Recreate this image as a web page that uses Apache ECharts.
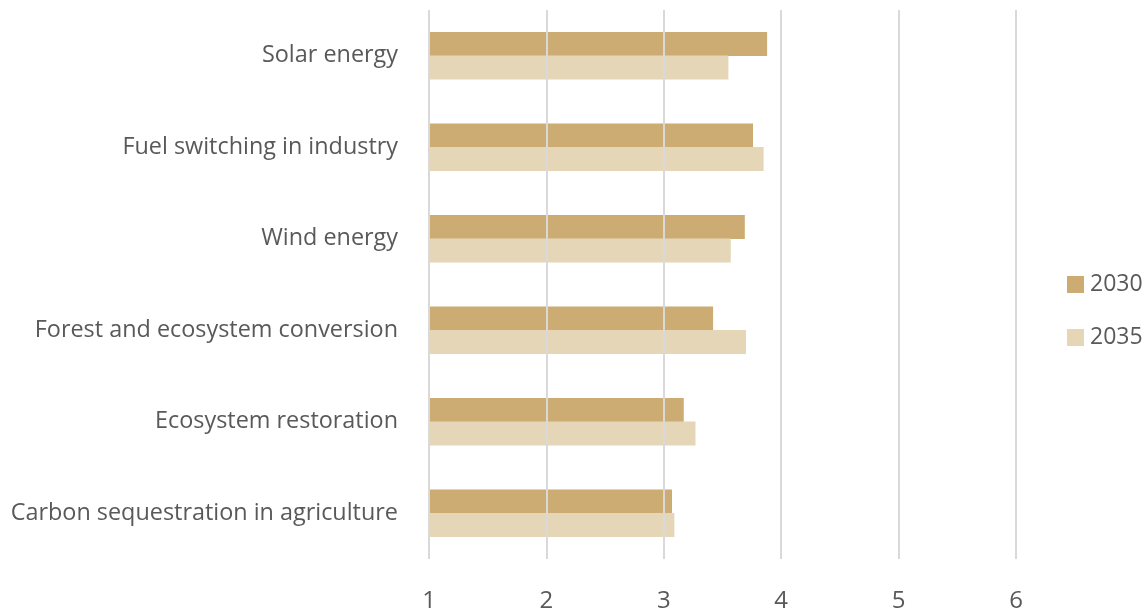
<!DOCTYPE html>
<html>
<head>
<meta charset="utf-8">
<script src="https://cdn.jsdelivr.net/npm/echarts@6/dist/echarts.min.js"></script>
<style>
  html, body { margin: 0; padding: 0; background: #fff; }
  #chart { width: 1147px; height: 613px; }
</style>
</head>
<body>
<div id="chart"></div>
<script>
// Mitigation options, listed top to bottom
const categories = [
  'Solar energy',
  'Fuel switching in industry',
  'Wind energy',
  'Forest and ecosystem conversion',
  'Ecosystem restoration',
  'Carbon sequestration in agriculture'
];
const values2030 = [3.88, 3.76, 3.69, 3.42, 3.17, 3.07];
const values2035 = [3.55, 3.85, 3.57, 3.70, 3.27, 3.09];
const xTicks = [1, 2, 3, 4, 5, 6];

const FONT = '"Open Sans", "Noto Sans", sans-serif';
const TEXT = '#595959';

const chart = echarts.init(document.getElementById('chart'), null, { renderer: 'canvas' });
chart.setOption({
  animation: false,
  textStyle: { fontFamily: FONT },
  grid: { left: 429, top: 10, width: 587, height: 550, containLabel: false },
  legend: {
    orient: 'vertical',
    left: 1062,
    top: 268,
    itemWidth: 17,
    itemHeight: 17,
    itemGap: 30,
    icon: 'rect',
    textStyle: { fontFamily: FONT, fontSize: 23, lineHeight: 23, color: TEXT, padding: [0, 0, 0, 1] },
    data: ['2030', '2035']
  },
  xAxis: {
    type: 'value',
    min: xTicks[0],
    max: xTicks[xTicks.length - 1],
    interval: 1,
    z: 5,
    axisLine: { show: false },
    axisTick: { show: false },
    splitLine: { show: true, lineStyle: { color: '#d9d9d9', width: 2 } },
    axisLabel: { fontFamily: FONT, fontSize: 24, color: TEXT, margin: 30 }
  },
  yAxis: {
    type: 'category',
    inverse: true,
    data: categories,
    axisLine: { show: false },
    axisTick: { show: false },
    axisLabel: { fontFamily: FONT, fontSize: 23.4, color: TEXT, margin: 31 }
  },
  series: [
    {
      name: '2030',
      type: 'bar',
      data: values2030,
      barWidth: 24,
      barGap: '-2%',
      itemStyle: { color: '#CCAC72' }
    },
    {
      name: '2035',
      type: 'bar',
      data: values2035,
      barWidth: 24,
      itemStyle: { color: '#E4D6B7' }
    }
  ]
});
</script>
</body>
</html>
